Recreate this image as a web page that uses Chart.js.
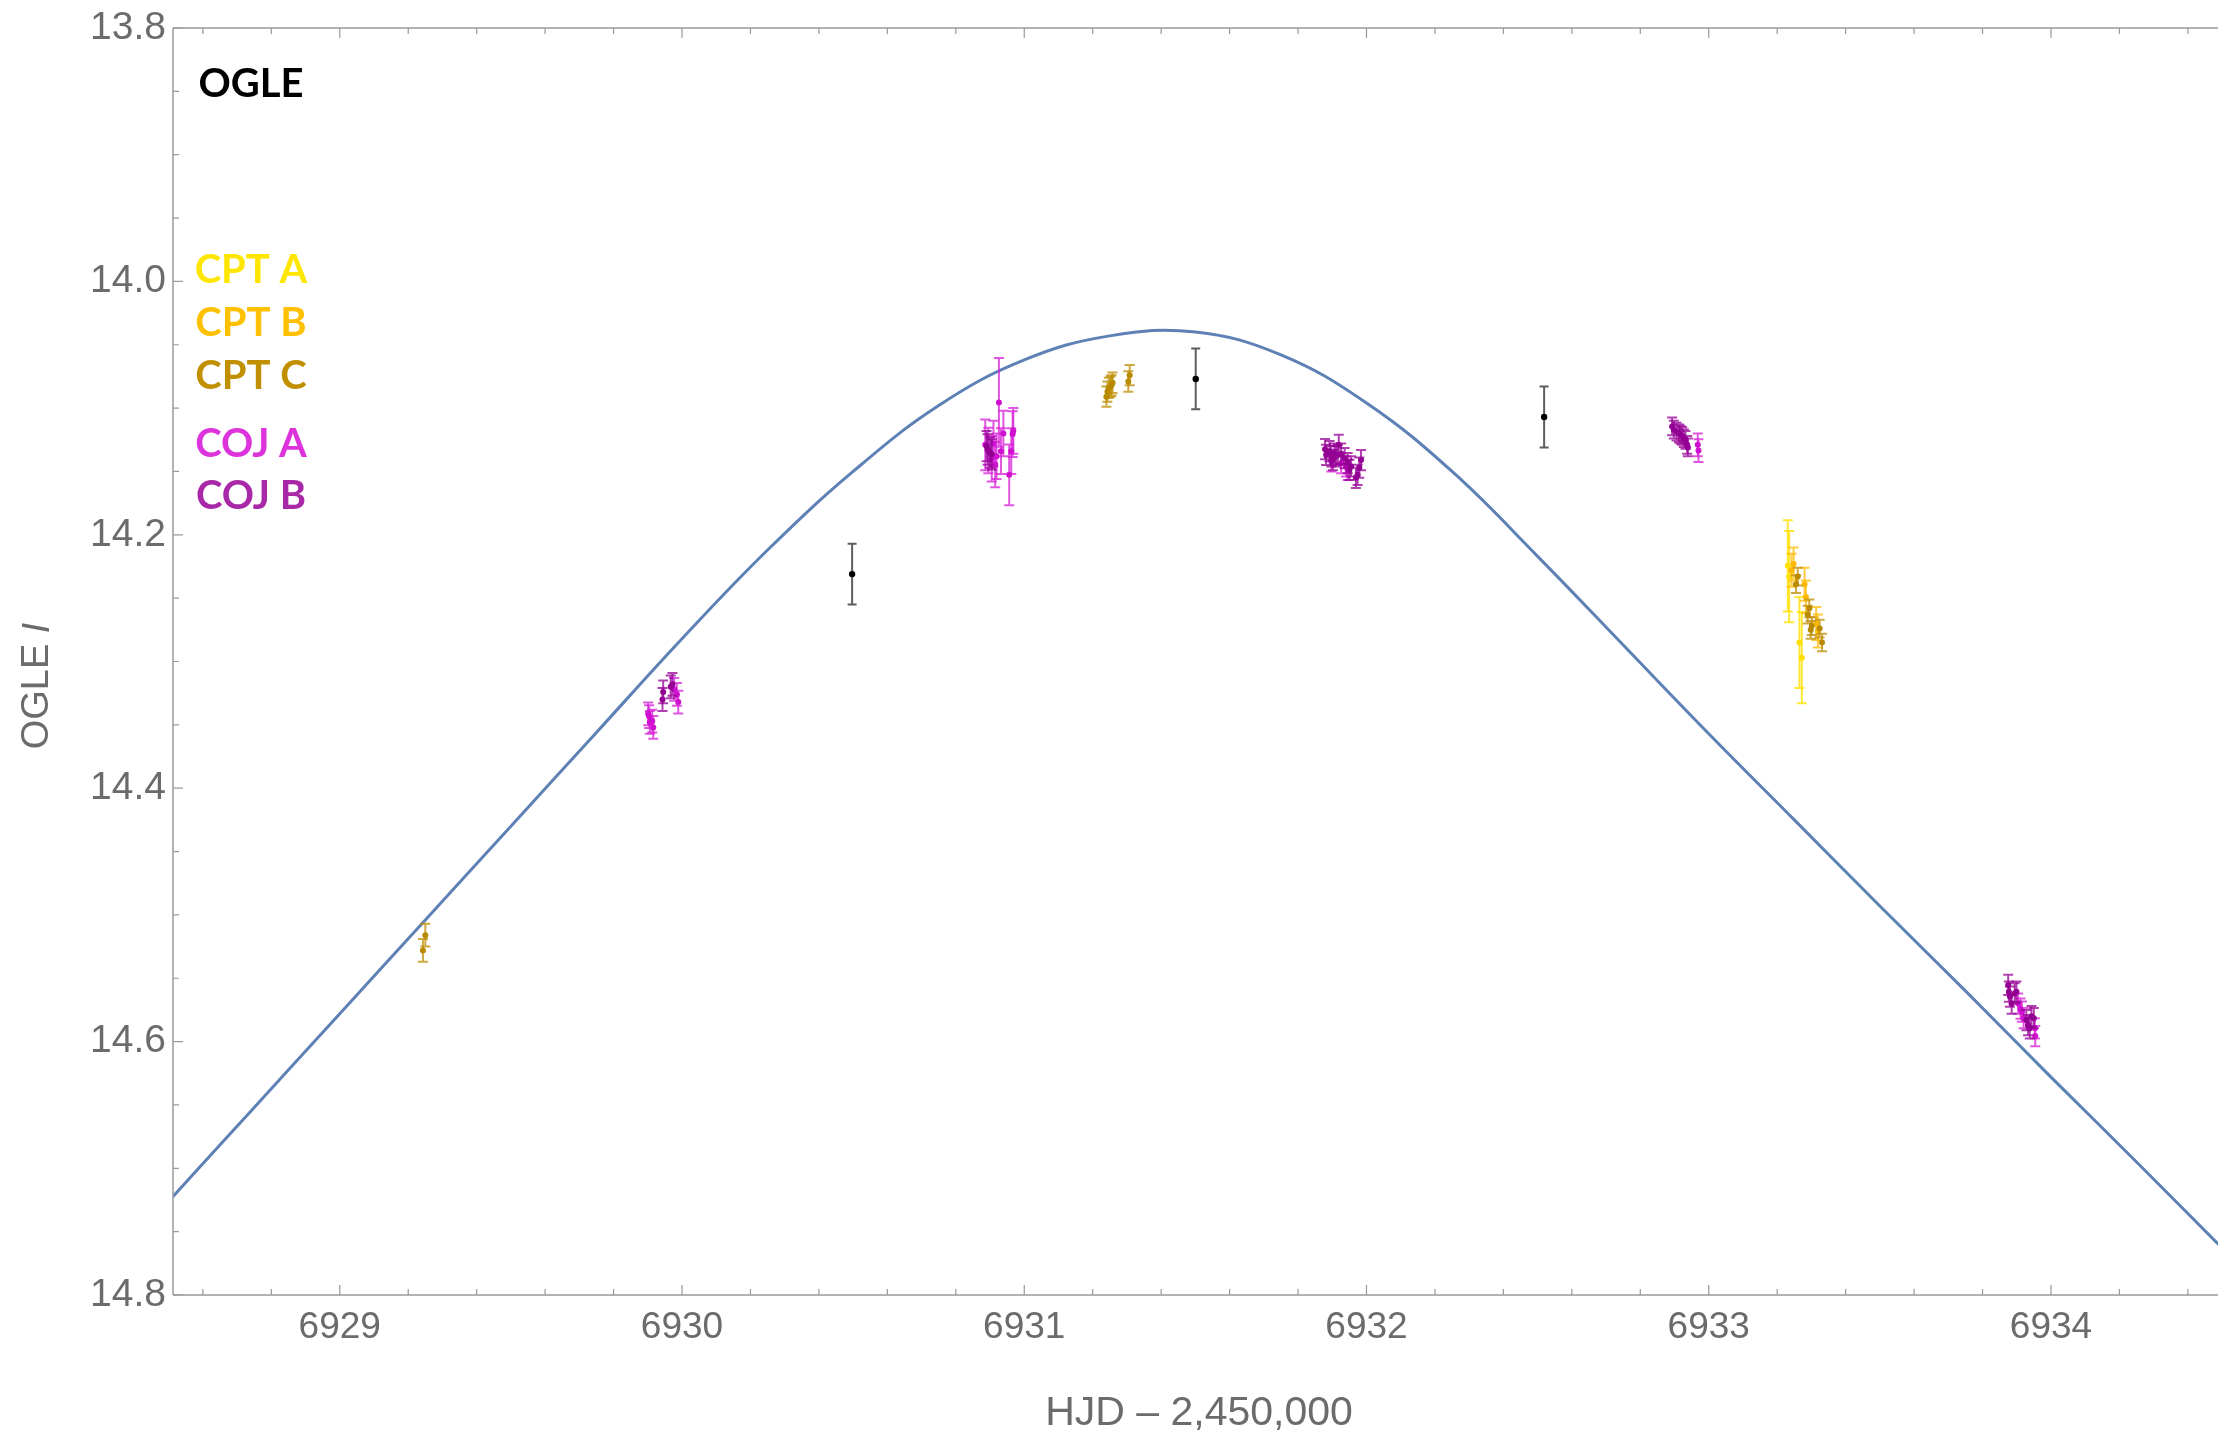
<!DOCTYPE html>
<html>
<head>
<meta charset="utf-8">
<script src="https://cdn.jsdelivr.net/npm/chart.js@4.4.1/dist/chart.umd.min.js"></script>
<style>
  html, body { margin: 0; padding: 0; background: #fff; }
  #wrap { width: 2222px; height: 1437px; }
</style>
</head>
<body>
<div id="wrap"><canvas id="lc" width="2222" height="1437"></canvas></div>
<script>
// axis ticks
const xMajorTicks = [6929, 6930, 6931, 6932, 6933, 6934];
const xTickLabels = ['6929', '6930', '6931', '6932', '6933', '6934'];
const yMajorTicks = [13.8, 14.0, 14.2, 14.4, 14.6, 14.8];
const yTickLabels = ['13.8', '14.0', '14.2', '14.4', '14.6', '14.8'];
const xMinorStep = 0.2;
const yMinorStep = 0.05;

// model curve
const modelX = [6928.5, 6928.75, 6929.0, 6929.25, 6929.5, 6929.75, 6930.0, 6930.25, 6930.5, 6930.75,
  6931.0, 6931.25, 6931.5, 6931.75, 6932.0, 6932.25, 6932.5, 6932.75, 6933.0,
  6933.25, 6933.5, 6933.75, 6934.0, 6934.25, 6934.5];
const modelY = [14.726, 14.652, 14.578, 14.504, 14.430, 14.356, 14.282, 14.212, 14.150, 14.098,
  14.062, 14.043, 14.040, 14.058, 14.096, 14.150, 14.217, 14.287, 14.357,
  14.425, 14.493, 14.560, 14.628, 14.695, 14.763];

// OGLE
const ogleX = [6930.497, 6931.501, 6932.519];
const ogleY = [14.231, 14.077, 14.107];
const ogleErr = [0.024, 0.024, 0.024];

// CPT A
const cptAX = [6933.231, 6933.235, 6933.265, 6933.272];
const cptAY = [14.2245, 14.233, 14.285, 14.297];
const cptAErr = [0.036, 0.036, 0.036, 0.036];

// CPT B
const cptBX = [6933.242, 6933.248, 6933.280, 6933.284, 6933.314, 6933.319];
const cptBY = [14.228, 14.223, 14.239, 14.249, 14.270, 14.276];
const cptBErr = [0.013, 0.013, 0.013, 0.013, 0.013, 0.013];

// CPT C
const cptCX = [6929.243, 6929.250, 6931.240, 6931.243, 6931.247, 6931.252, 6931.255, 6931.258, 6931.304, 6931.308,
  6933.255, 6933.260, 6933.289, 6933.294, 6933.298, 6933.301, 6933.324, 6933.331];
const cptCY = [14.528, 14.516, 14.091, 14.087, 14.084, 14.083, 14.082, 14.080, 14.079, 14.074,
  14.239, 14.233, 14.263, 14.258, 14.275, 14.272, 14.274, 14.285];
const cptCErr = [0.009, 0.009, 0.008, 0.008, 0.008, 0.008, 0.008, 0.008, 0.008, 0.008,
  0.007, 0.007, 0.007, 0.007, 0.007, 0.007, 0.007, 0.007];

// COJ A
const cojAX = [6929.901, 6929.904, 6929.906, 6929.913, 6929.916, 6929.977, 6929.985, 6929.989,
  6930.886, 6930.895, 6930.905, 6930.910, 6930.915, 6930.919, 6930.926, 6930.932, 6930.939, 6930.956, 6930.962, 6930.966, 6930.968,
  6931.897, 6931.926, 6931.940, 6931.945,
  6932.968, 6932.970,
  6933.904, 6933.911, 6933.915, 6933.920, 6933.953, 6933.954];
const cojAY = [14.3413, 14.3435, 14.348, 14.347, 14.352, 14.322, 14.326, 14.332,
  14.129, 14.1335, 14.140, 14.128, 14.1445, 14.138, 14.0955, 14.134, 14.120, 14.1527, 14.134, 14.1205, 14.118,
  14.142, 14.1434, 14.146, 14.1487,
  14.129, 14.1335,
  14.570, 14.574, 14.5764, 14.5815, 14.5895, 14.5956];
const cojAErr = [0.009, 0.009, 0.009, 0.009, 0.009, 0.009, 0.009, 0.009,
  0.02, 0.018, 0.018, 0.018, 0.018, 0.018, 0.035, 0.018, 0.018, 0.024, 0.018, 0.018, 0.018,
  0.008, 0.008, 0.008, 0.008,
  0.009, 0.009,
  0.008, 0.008, 0.008, 0.008, 0.008, 0.008];

// COJ B
const cojBX = [6929.943, 6929.945, 6929.967, 6929.972,
  6930.890, 6930.893, 6930.900, 6930.905,
  6931.879, 6931.882, 6931.892, 6931.897, 6931.902, 6931.906, 6931.911, 6931.916, 6931.919, 6931.926,
  6931.936, 6931.945, 6931.950, 6931.955, 6931.969, 6931.974, 6931.984, 6931.979,
  6932.893, 6932.898, 6932.906, 6932.913, 6932.917, 6932.922, 6932.927, 6932.932, 6932.937, 6932.939,
  6933.875, 6933.877, 6933.880, 6933.885, 6933.894, 6933.899, 6933.928, 6933.933, 6933.938, 6933.943, 6933.950];
const cojBY = [14.330, 14.324, 14.320, 14.318,
  14.130, 14.1327, 14.135, 14.1365,
  14.1324, 14.137, 14.134, 14.138, 14.141, 14.136, 14.138, 14.137, 14.129, 14.136,
  14.1395, 14.1434, 14.1487, 14.146, 14.155, 14.1527, 14.141, 14.147,
  14.1145, 14.117, 14.1185, 14.120, 14.121, 14.122, 14.1237, 14.125, 14.129, 14.131,
  14.5553, 14.5606, 14.5645, 14.570, 14.562, 14.5606, 14.583, 14.587, 14.5895, 14.580, 14.5815];
const cojBErr = [0.009, 0.009, 0.009, 0.009,
  0.012, 0.012, 0.012, 0.012,
  0.008, 0.008, 0.008, 0.008, 0.008, 0.008, 0.008, 0.008, 0.008, 0.008,
  0.008, 0.008, 0.008, 0.008, 0.008, 0.008, 0.008, 0.008,
  0.007, 0.007, 0.007, 0.007, 0.007, 0.007, 0.007, 0.007, 0.007, 0.007,
  0.008, 0.008, 0.008, 0.008, 0.008, 0.008, 0.008, 0.008, 0.008, 0.008, 0.008];

const zip = (xs, ys) => xs.map((x, i) => ({ x: x, y: ys[i] }));

function obsSet(label, xs, ys, errs, color, barColor, radius) {
  return {
    type: 'scatter',
    label: label,
    data: zip(xs, ys),
    errs: errs,
    barColor: barColor,
    backgroundColor: color,
    borderColor: color,
    borderWidth: 0,
    pointRadius: radius
  };
}

const GREY = '#6b6b6b';
const AXIS = '#9a9a9a';

// minor + major ticks from a step
function stepTicks(scale, step) {
  const k0 = Math.ceil(scale.min / step - 1e-9);
  const k1 = Math.floor(scale.max / step + 1e-9);
  const t = [];
  for (let k = k0; k <= k1; k++) t.push({ value: +(k * step).toFixed(4) });
  scale.ticks = t;
}
function labelFor(v, majors, labels) {
  const i = majors.findIndex(m => Math.abs(m - v) < 1e-6);
  return i < 0 ? '' : labels[i];
}

const decor = {
  id: 'decor',
  beforeDatasetDraw(chart, args) {
    const ds = chart.data.datasets[args.index];
    if (!ds.errs) return;
    const { ctx, chartArea: a, scales: { x, y } } = chart;
    ctx.save();
    ctx.beginPath();
    ctx.rect(a.left, a.top, a.right - a.left, a.bottom - a.top);
    ctx.clip();
    ctx.strokeStyle = ds.barColor;
    ctx.lineWidth = 2;
    const cap = ds.label === 'OGLE' ? 4.5 : 5;
    ds.data.forEach((p, i) => {
      const px = x.getPixelForValue(p.x);
      const y1 = y.getPixelForValue(p.y - ds.errs[i]);
      const y2 = y.getPixelForValue(p.y + ds.errs[i]);
      ctx.beginPath();
      ctx.moveTo(px, y1); ctx.lineTo(px, y2);
      ctx.moveTo(px - cap, y1); ctx.lineTo(px + cap, y1);
      ctx.moveTo(px - cap, y2); ctx.lineTo(px + cap, y2);
      ctx.stroke();
    });
    ctx.restore();
  },
  afterDatasetsDraw(chart) {
    const { ctx, chartArea: a, scales: { x, y } } = chart;
    ctx.save();
    ctx.strokeStyle = AXIS;
    ctx.lineWidth = 1.5;
    // frame: left, bottom, top
    ctx.beginPath();
    ctx.moveTo(a.left, a.top); ctx.lineTo(a.left, a.bottom);
    ctx.moveTo(a.left, a.bottom); ctx.lineTo(a.right, a.bottom);
    ctx.moveTo(a.left, a.top); ctx.lineTo(a.right, a.top);
    ctx.stroke();
    ctx.lineWidth = 1.2;
    ctx.beginPath();
    x.ticks.forEach(t => {
      const px = x.getPixelForValue(t.value);
      const len = labelFor(t.value, xMajorTicks, xTickLabels) ? 10 : 6;
      ctx.moveTo(px, a.bottom); ctx.lineTo(px, a.bottom - len);
      ctx.moveTo(px, a.top); ctx.lineTo(px, a.top + len);
    });
    y.ticks.forEach(t => {
      const py = y.getPixelForValue(t.value);
      const len = labelFor(t.value, yMajorTicks, yTickLabels) ? 10 : 6;
      ctx.moveTo(a.left, py); ctx.lineTo(a.left + len, py);
    });
    ctx.stroke();
    ctx.restore();
  },
  afterDraw(chart) {
    const { ctx, chartArea: a } = chart;
    ctx.save();
    // axis titles
    ctx.fillStyle = GREY;
    ctx.textBaseline = 'middle';
    ctx.textAlign = 'center';
    ctx.font = '41px "Liberation Sans"';
    ctx.fillText('HJD \u2013 2,450,000', 1199, a.bottom + 119);

    const normal = '38px "Liberation Sans"';
    const ital = 'italic 38px "Liberation Sans"';
    ctx.translate(a.left - 135, 686);
    ctx.rotate(-Math.PI / 2);
    ctx.font = normal;
    const w1 = ctx.measureText('OGLE ').width;
    ctx.font = ital;
    const w2 = ctx.measureText('I').width;
    ctx.textAlign = 'left';
    ctx.font = normal;
    ctx.fillText('OGLE ', -(w1 + w2) / 2, 0);
    ctx.font = ital;
    ctx.fillText('I', -(w1 + w2) / 2 + w1, 0);
    ctx.restore();

    // instrument labels
    ctx.save();
    ctx.font = 'bold 40px Lato';
    ctx.textAlign = 'center';
    ctx.textBaseline = 'alphabetic';
    const cx = a.left + 78;
    const names = [
      ['OGLE', '#000000', 97],
      ['CPT A', '#ffe600', 283],
      ['CPT B', '#ffc000', 336],
      ['CPT C', '#c09000', 389],
      ['COJ A', '#dd33dd', 457],
      ['COJ B', '#a828a8', 509]
    ];
    names.forEach(n => {
      ctx.fillStyle = n[1];
      ctx.fillText(n[0], cx, n[2]);
    });
    ctx.restore();
  }
};

new Chart(document.getElementById('lc'), {
  type: 'scatter',
  data: {
    datasets: [
      obsSet('OGLE', ogleX, ogleY, ogleErr, '#000000', 'rgba(40,40,40,0.75)', 3.2),
      obsSet('CPT C', cptCX, cptCY, cptCErr, '#b98a00', 'rgba(190,140,0,0.75)', 3),
      obsSet('CPT B', cptBX, cptBY, cptBErr, '#ffb900', 'rgba(255,185,0,0.75)', 3),
      obsSet('CPT A', cptAX, cptAY, cptAErr, '#ffe000', 'rgba(255,225,0,0.8)', 3),
      obsSet('COJ B', cojBX, cojBY, cojBErr, '#930093', 'rgba(150,0,150,0.75)', 3),
      obsSet('COJ A', cojAX, cojAY, cojAErr, '#d010d0', 'rgba(215,30,215,0.75)', 3),
      {
        type: 'line',
        label: 'model',
        data: zip(modelX, modelY),
        borderColor: '#5e81b5',
        borderWidth: 3,
        pointRadius: 0,
        fill: false,
        tension: 0.4
      }
    ]
  },
  options: {
    responsive: false,
    animation: false,
    devicePixelRatio: 1,
    layout: { padding: { top: 28, right: 0, bottom: 0, left: 0 } },
    plugins: { legend: { display: false }, tooltip: { enabled: false } },
    scales: {
      x: {
        type: 'linear',
        min: 6928.5127,
        max: 6934.488,
        grid: { display: false, drawTicks: false },
        border: { display: false },
        ticks: {
          autoSkip: false,
          maxRotation: 0,
          includeBounds: false,
          padding: 11,
          color: GREY,
          font: { family: 'Liberation Sans', size: 37 },
          callback: v => labelFor(v, xMajorTicks, xTickLabels)
        },
        afterBuildTicks: s => stepTicks(s, xMinorStep),
        afterFit: s => { s.height = 142; s.paddingLeft = 0; s.paddingRight = 0; }
      },
      y: {
        type: 'linear',
        reverse: true,
        min: 13.8,
        max: 14.8,
        grid: { display: false, drawTicks: false },
        border: { display: false },
        ticks: {
          autoSkip: false,
          includeBounds: false,
          padding: 7,
          color: GREY,
          font: { family: 'Liberation Sans', size: 39 },
          callback: v => labelFor(v, yMajorTicks, yTickLabels)
        },
        afterBuildTicks: s => stepTicks(s, yMinorStep),
        afterFit: s => { s.width = 173; s.paddingTop = 0; s.paddingBottom = 0; }
      }
    }
  },
  plugins: [decor]
});
</script>
</body>
</html>
